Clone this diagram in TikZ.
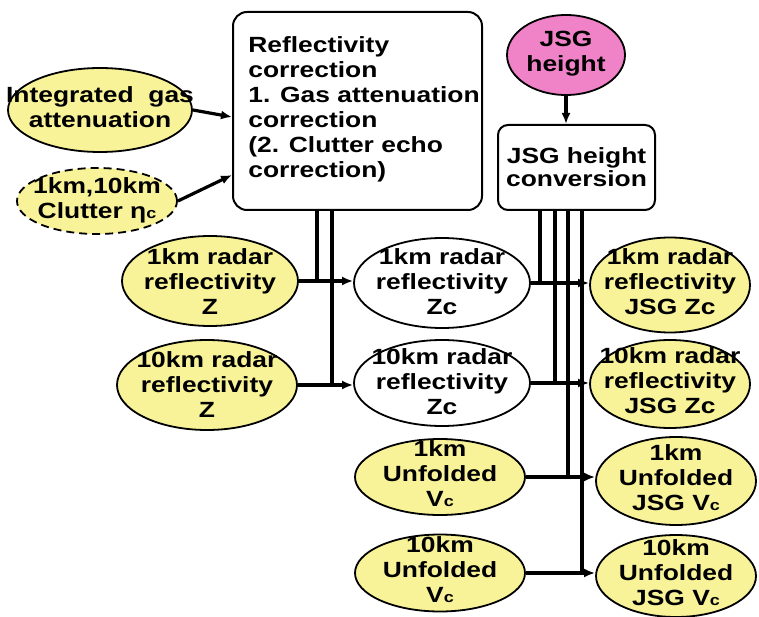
\documentclass[tikz,border=0pt]{standalone}
\usepackage{fontspec}
\newfontfamily\dfont[FakeStretch=1.2]{Liberation Sans}
\usetikzlibrary{shapes.geometric,arrows.meta}
\definecolor{ylw}{RGB}{248,243,152}
\definecolor{pnk}{RGB}{240,130,200}
% centred multi-line label that does not widen its ellipse
\newcommand\zt[2][0pt]{\raisebox{\dimexpr-8.5pt-#1\relax}{\makebox[0pt]{\smash{\begin{tabular}[c]{@{}c@{}}#2\end{tabular}}}}}
\newcommand\sm[1]{{\fontsize{15}{15}\selectfont #1}}
\begin{document}
\begin{tikzpicture}[x=1pt,y=-1pt,
  every node/.style={font=\dfont\bfseries\fontsize{22}{25}\selectfont},
  bub/.style={ellipse, draw, line width=1.8pt, inner sep=0pt},
  ybub/.style={bub, fill=ylw},
  wbub/.style={bub, fill=white},
  pbub/.style={bub, fill=pnk},
  rbox/.style={draw, line width=2pt, rounded corners=14pt, fill=white, inner sep=0pt},
  conn/.style={draw, line width=3.2pt},
  arr/.style={conn, -{Latex[length=11pt,width=9pt]}}]
\fill[white] (0,0) rectangle (759,617);
\useasboundingbox (0,0) rectangle (759,617);

% processing boxes
\node[rbox, minimum width=249pt, minimum height=198pt] (refbox) at (357.5,111) {};
\node[align=left, inner sep=0pt] (reftxt) at (364,109) {Reflectivity\\correction\\1. Gas attenuation\\correction\\(2. Clutter echo\\correction)};
\node[rbox, rounded corners=10pt, minimum width=157pt, minimum height=85pt, align=center] (jsgbox) at (576.5,167.5) {\raisebox{-2pt}{JSG height}\\conversion};

% inputs
\node[ybub, minimum width=184pt, minimum height=84pt] (gas) at (100,110) {\zt[2pt]{Integrated\ \ gas\\attenuation}};
\node[ybub, dash pattern=on 8pt off 5pt, minimum width=160pt, minimum height=66pt] (clut) at (97,201) {\zt[2pt]{1km,10km\\Clutter η\sm{c}}};
\node[pbub, minimum width=118pt, minimum height=80pt] (jsgh) at (566,55) {\zt{JSG\\height}};
\node[ybub, minimum width=176pt, minimum height=90pt] (z1) at (210,281) {\zt[8pt]{1km radar\\reflectivity\\Z}};
\node[ybub, minimum width=180pt, minimum height=90pt] (z10) at (207,385) {\zt[6pt]{10km radar\\reflectivity\\Z}};

% corrected reflectivity
\node[wbub, minimum width=176pt, minimum height=90pt] (zc1) at (442,283) {\zt[5pt]{1km radar\\reflectivity\\Zc}};
\node[wbub, minimum width=176pt, minimum height=86pt] (zc10) at (442,383) {\zt[4pt]{10km radar\\reflectivity\\Zc}};

% Doppler velocities
\node[ybub, minimum width=170pt, minimum height=76pt] (v1) at (440,477) {\zt{1km\\Unfolded\\V\sm{c}}};
\node[ybub, minimum width=170pt, minimum height=77pt] (v10) at (440,573) {\zt{10km\\Unfolded\\V\sm{c}}};

% outputs
\node[ybub, minimum width=160pt, minimum height=95pt] (j1) at (670,285) {\zt{1km radar\\reflectivity\\JSG Zc}};
\node[ybub, minimum width=160pt, minimum height=88pt] (j10) at (670,384) {\zt{10km radar\\reflectivity\\JSG Zc}};
\node[ybub, minimum width=160pt, minimum height=88pt] (jv1) at (676,481) {\zt{1km\\Unfolded\\JSG V\sm{c}}};
\node[ybub, minimum width=160pt, minimum height=82pt] (jv10) at (676,576) {\zt{10km\\Unfolded\\JSG V\sm{c}}};

% inputs to the correction box
\draw[arr] (gas.east) -- ([yshift=-6pt]refbox.west);
\draw[arr] (clut.east) -- ([yshift=-64pt]refbox.west);
\draw[arr] (jsgh.south) -- (jsgh.south |- jsgbox.north);

% main data flow
\draw[arr] (z1.east) -- (z1.east -| zc1.west);
\draw[arr] (z10.east) -- (z10.east -| zc10.west);
\draw[arr] (zc1.east) -- (zc1.east -| j1.west);
\draw[arr] (zc10.east) -- (zc10.east -| j10.west);
\draw[arr] (v1.east) -- (v1.east -| jv1.west);
\draw[arr] (v10.east) -- (v10.east -| jv10.west);

% correction feeds
\coordinate (r1) at ([xshift=-40.5pt]refbox.south);
\coordinate (r2) at ([xshift=-25.5pt]refbox.south);
\draw[conn] (r1) -- (r1 |- z1.east);
\draw[conn] (r2) -- (r2 |- z10.east);

% height conversion feeds
\coordinate (c1) at ([xshift=-36.5pt]jsgbox.south);
\coordinate (c2) at ([xshift=-21.5pt]jsgbox.south);
\coordinate (c3) at ([xshift=-8.5pt]jsgbox.south);
\coordinate (c4) at ([xshift=5.5pt]jsgbox.south);
\draw[conn] (c1) -- (c1 |- zc1.east);
\draw[conn] (c2) -- (c2 |- zc10.east);
\draw[conn] (c3) -- (c3 |- v1.east);
\draw[conn] (c4) -- (c4 |- v10.east);
\end{tikzpicture}
\end{document}
